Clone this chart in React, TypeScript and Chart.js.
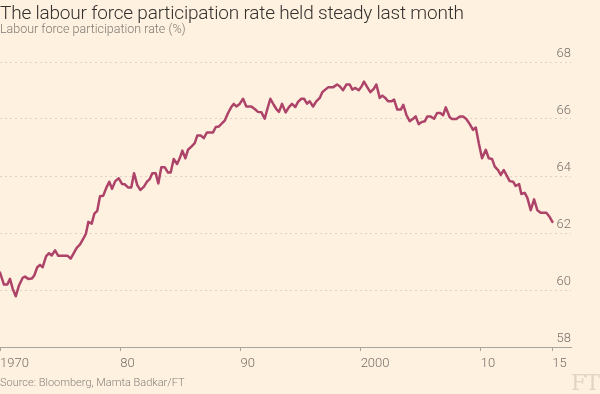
import React, { useEffect, useRef } from "react";
import { Chart, registerables } from "chart.js";

Chart.register(...registerables);

const years = [
  1970.0, 1970.33, 1970.61, 1970.83, 1971.06, 1971.31, 1971.58, 1971.89, 1972.08, 1972.35,
  1972.64, 1972.85, 1973.1, 1973.33, 1973.55, 1973.83, 1974.08, 1974.3, 1974.58, 1974.85,
  1975.27, 1975.63, 1975.88, 1976.1, 1976.38, 1976.66, 1976.93, 1977.15, 1977.35, 1977.63,
  1977.85, 1978.09, 1978.32, 1978.59, 1978.88, 1979.09, 1979.32, 1979.59, 1979.88, 1980.15,
  1980.37, 1980.65, 1980.92, 1981.15, 1981.42, 1981.67, 1981.96, 1982.23, 1982.45, 1982.67,
  1982.95, 1983.17, 1983.42, 1983.7, 1983.98, 1984.2, 1984.45, 1984.73, 1984.95, 1985.17,
  1985.42, 1985.64, 1985.92, 1986.2, 1986.41, 1986.7, 1986.95, 1987.22, 1987.5, 1987.72,
  1987.95, 1988.22, 1988.49, 1988.69, 1988.97, 1989.24, 1989.44, 1989.66, 1989.94, 1990.22,
  1990.49, 1990.91, 1991.19, 1991.46, 1991.74, 1992.02, 1992.24, 1992.49, 1992.77, 1992.99,
  1993.21, 1993.46, 1993.77, 1994.02, 1994.29, 1994.57, 1994.79, 1995.07, 1995.29, 1995.54,
  1995.77, 1996.04, 1996.31, 1996.6, 1996.81, 1997.06, 1997.29, 1997.7, 1998.04, 1998.26,
  1998.54, 1998.81, 1999.09, 1999.31, 1999.56, 1999.84, 2000.06, 2000.28, 2000.56, 2000.81,
  2001.09, 2001.31, 2001.59, 2001.81, 2002.05, 2002.28, 2002.55, 2002.78, 2003.05, 2003.34,
  2003.55, 2003.8, 2004.08, 2004.36, 2004.58, 2004.83, 2005.05, 2005.33, 2005.55, 2005.83,
  2006.11, 2006.36, 2006.63, 2006.86, 2007.08, 2007.41, 2007.6, 2007.96, 2008.25, 2008.52,
  2008.79, 2009.08, 2009.35, 2009.58, 2009.83, 2010.1, 2010.41, 2010.66, 2010.93, 2011.16,
  2011.43, 2011.66, 2011.91, 2012.12, 2012.4, 2012.68, 2012.9, 2013.18, 2013.37, 2013.65,
  2013.87, 2014.15, 2014.43, 2014.7, 2014.98, 2015.26, 2015.45, 2015.73, 2015.95,
];

const rates = [
  60.61, 60.19, 60.19, 60.39, 60.04, 59.78, 60.16, 60.43, 60.47, 60.39,
  60.4, 60.51, 60.8, 60.88, 60.8, 61.18, 61.29, 61.21, 61.39, 61.2,
  61.2, 61.2, 61.1, 61.27, 61.48, 61.6, 61.8, 61.98, 62.39, 62.33,
  62.68, 62.78, 63.29, 63.31, 63.62, 63.8, 63.55, 63.82, 63.92, 63.72,
  63.71, 63.6, 63.6, 64.1, 63.68, 63.51, 63.62, 63.8, 63.89, 64.1,
  64.1, 63.74, 64.31, 64.31, 64.12, 64.12, 64.6, 64.42, 64.62, 64.89,
  64.62, 64.92, 65.03, 65.15, 65.42, 65.42, 65.33, 65.53, 65.53, 65.53,
  65.72, 65.74, 65.86, 65.94, 66.21, 66.42, 66.53, 66.44, 66.53, 66.71,
  66.44, 66.44, 66.35, 66.25, 66.24, 66.01, 66.35, 66.71, 66.5, 66.35,
  66.25, 66.53, 66.23, 66.41, 66.53, 66.42, 66.6, 66.71, 66.71, 66.54,
  66.62, 66.44, 66.62, 66.74, 66.94, 67.03, 67.11, 67.11, 67.21, 67.15,
  67.01, 67.21, 67.21, 67.03, 67.09, 67.01, 67.13, 67.31, 67.11, 66.94,
  67.06, 67.21, 66.74, 66.82, 66.74, 66.62, 66.62, 66.68, 66.33, 66.33,
  66.5, 66.15, 65.92, 66.01, 66.09, 65.82, 65.89, 65.92, 66.09, 66.09,
  66.01, 66.21, 66.21, 66.13, 66.41, 66.06, 66.0, 66.0, 66.09, 66.09,
  66.0, 65.82, 65.62, 65.7, 65.15, 64.62, 64.92, 64.62, 64.6, 64.33,
  64.21, 64.04, 64.21, 64.04, 63.82, 63.8, 63.65, 63.72, 63.37, 63.41,
  63.23, 62.8, 63.18, 62.8, 62.71, 62.71, 62.71, 62.56, 62.39,
];

const xTickYears = [1970, 1980, 1990, 2000, 2010, 2015.95];
const xTickLabels = ["1970", "80", "90", "2000", "10", "15"];
const yTickValues = [58, 60, 62, 64, 66, 68];

const BG = "#fff1e0";
const LINE = "#ad4368";
const TEXT_GREY = "#75716b";
const AXIS = "#a9a59c";
const GRID = "#dcd2c5";
const FONT = "Roboto";

export default function App() {
  const ref = useRef<HTMLCanvasElement>(null);

  useEffect(() => {
    const canvas = ref.current;
    if (!canvas) return;
    const chart = new Chart(canvas, {
      type: "line",
      data: {
        datasets: [
          {
            data: years.map((x, i) => ({ x, y: rates[i] })),
            borderColor: LINE,
            borderWidth: 2.5,
            pointRadius: 0,
            tension: 0,
            fill: false,
            borderJoinStyle: "round",
            borderCapStyle: "round",
          },
        ],
      },
      options: {
        animation: false,
        responsive: false,
        maintainAspectRatio: false,
        layout: { autoPadding: false, padding: { top: 62, right: 29, left: 0, bottom: 0 } },
        plugins: {
          legend: { display: false },
          tooltip: { enabled: false },
          title: { display: false },
        },
        scales: {
          x: {
            type: "linear",
            min: 1970,
            max: 2017.5,
            afterBuildTicks: (s: any) => {
              s.ticks = xTickYears.map((v) => ({ value: v }));
            },
            afterFit: (s: any) => {
              s.height = 47;
              s.paddingLeft = 0;
              s.paddingRight = 0;
            },
            grid: {
              drawOnChartArea: false,
              drawTicks: true,
              tickLength: 4,
              color: AXIS,
              lineWidth: 1,
            },
            border: { display: true, color: AXIS, width: 1 },
            ticks: {
              align: "start",
              padding: 5,
              color: TEXT_GREY,
              font: { family: FONT, size: 13, weight: "300" },
              maxRotation: 0,
              autoSkip: false,
              callback: (_v: any, i: number) => xTickLabels[i],
            },
          },
          y: {
            position: "right",
            min: 58,
            max: 68,
            afterBuildTicks: (s: any) => {
              s.ticks = yTickValues.map((v) => ({ value: v }));
            },
            afterFit: (s: any) => {
              s.width = 0;
              s.paddingTop = 0;
              s.paddingBottom = 0;
            },
            grid: {
              drawTicks: false,
              lineWidth: 1,
              color: (ctx: any) =>
                ctx.tick && ctx.tick.value === 58 ? "rgba(0,0,0,0)" : GRID,
            },
            border: { display: false, dash: [2, 3] },
            ticks: {
              mirror: true,
              padding: 0,
              labelOffset: -8,
              color: TEXT_GREY,
              font: { family: FONT, size: 13, weight: "300" },
              callback: (v: any) => String(v),
            },
          },
        },
      },
    } as any);
    return () => chart.destroy();
  }, []);

  return (
    <div
      style={{
        position: "absolute",
        left: 0,
        top: 0,
        width: 600,
        height: 394,
        background: BG,
        overflow: "hidden",
        fontFamily: FONT,
      }}
    >
      <canvas
        ref={ref}
        width={600}
        height={394}
        style={{ position: "absolute", left: 0, top: 0, width: 600, height: 394 }}
      />
      <div
        style={{
          position: "absolute",
          left: 0,
          top: 1,
          fontSize: 19,
          lineHeight: "24px",
          fontWeight: 300,
          color: "#33302e",
          whiteSpace: "nowrap",
          letterSpacing: "-0.2px",
        }}
      >
        The labour force participation rate held steady last month
      </div>
      <div
        style={{
          position: "absolute",
          left: 0,
          top: 21,
          fontSize: 12.5,
          lineHeight: "16px",
          fontWeight: 300,
          color: "#7d7a74",
          whiteSpace: "nowrap",
        }}
      >
        Labour force participation rate (%)
      </div>
      <div
        style={{
          position: "absolute",
          left: 0,
          top: 376,
          fontSize: 11,
          lineHeight: "14px",
          fontWeight: 300,
          color: "#86827c",
          whiteSpace: "nowrap",
        }}
      >
        Source: Bloomberg, Mamta Badkar/FT
      </div>
      <div
        style={{
          position: "absolute",
          right: 1,
          top: 372,
          fontSize: 22,
          lineHeight: "22px",
          fontFamily: "'DejaVu Serif', 'Liberation Serif', serif",
          color: "#e3d5c4",
          whiteSpace: "nowrap",
          letterSpacing: "-1px",
        }}
      >
        FT
      </div>
    </div>
  );
}
